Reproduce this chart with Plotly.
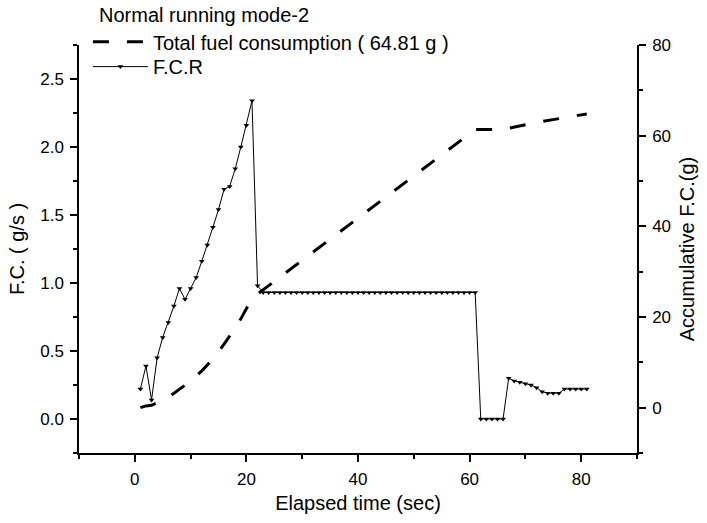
import plotly.graph_objects as go

# F.C.R (g/s), left axis
time_fcr = list(range(1, 82))
fcr = ([0.22, 0.39, 0.14, 0.45, 0.60, 0.71, 0.83, 0.96, 0.88, 0.96,
        1.04, 1.16, 1.28, 1.41, 1.54, 1.69, 1.71, 1.84, 2.00, 2.16,
        2.34, 0.98]
       + [0.93] * 39
       + [0.00] * 5
       + [0.30, 0.28, 0.27, 0.26, 0.25, 0.23, 0.20, 0.19, 0.19, 0.19,
          0.22, 0.22, 0.22, 0.22, 0.22])

# Accumulative fuel consumption (g), right axis
time_cum = list(range(1, 82))
cum = [0.00, 0.39, 0.53, 0.98, 1.58, 2.29, 3.12, 4.08, 4.96, 5.92,
       6.96, 8.12, 9.40, 10.81, 12.35, 14.04, 15.75, 17.59, 19.59, 21.75,
       24.09, 25.07, 26.00, 26.93, 27.86, 28.79, 29.72, 30.65, 31.58, 32.51,
       33.44, 34.37, 35.30, 36.23, 37.16, 38.09, 39.02, 39.95, 40.88, 41.81,
       42.74, 43.67, 44.60, 45.53, 46.46, 47.39, 48.32, 49.25, 50.18, 51.11,
       52.04, 52.97, 53.90, 54.83, 55.76, 56.69, 57.62, 58.55, 59.48, 60.41,
       61.34, 61.34, 61.34, 61.34, 61.34, 61.34, 61.64, 61.92, 62.19, 62.45,
       62.70, 62.93, 63.13, 63.32, 63.51, 63.70, 63.92, 64.14, 64.36, 64.58,
       64.80]

x_ticks = [0, 20, 40, 60, 80]
y_ticks = [0.0, 0.5, 1.0, 1.5, 2.0, 2.5]
y2_ticks = [0, 20, 40, 60, 80]

FONT = "Liberation Sans, Arial, sans-serif"
TICK_SIZE = 17
TITLE_SIZE = 20
LEGEND_SIZE = 20

fig = go.Figure()
fig.add_trace(go.Scatter(
    x=time_cum, y=cum, yaxis="y2", mode="lines",
    name="Total fuel consumption ( 64.81 g )",
    line=dict(color="black", width=3, dash="16px,18px"),
    legend="legend",
))
fig.add_trace(go.Scatter(
    x=time_fcr, y=fcr, mode="lines+markers", name="F.C.R",
    line=dict(color="black", width=1),
    marker=dict(symbol="triangle-down", size=5, color="black"),
    legend="legend2",
))

axis_common = dict(
    showline=True, linecolor="black", linewidth=1.5,
    ticks="outside", ticklen=7, tickwidth=1.5, tickcolor="black",
    ticklabelstandoff=3,
    showgrid=False, zeroline=False,
    tickfont=dict(family=FONT, size=TICK_SIZE, color="black"),
)
minor_common = dict(ticks="outside", ticklen=4, tickcolor="black", tickwidth=1.5)
legend_common = dict(
    xanchor="left", yanchor="middle", bgcolor="rgba(0,0,0,0)", itemwidth=55,
    font=dict(family=FONT, size=LEGEND_SIZE, color="black"),
)

fig.update_layout(
    width=707, height=523,
    margin=dict(l=79, r=64, t=45, b=66),
    paper_bgcolor="white", plot_bgcolor="white",
    font=dict(family=FONT, color="black"),
    showlegend=True,
    legend=dict(x=0.016, y=1.008, **legend_common),
    legend2=dict(x=0.016, y=0.947, **legend_common),
    xaxis=dict(
        range=[-10, 90], tickvals=x_ticks,
        minor=dict(dtick=10, tick0=0, **minor_common),
        title=dict(text="Elapsed time (sec)", font=dict(family=FONT, size=TITLE_SIZE), standoff=8),
        **axis_common,
    ),
    yaxis=dict(
        range=[-0.25, 2.75], tickvals=y_ticks, tickformat=".1f",
        minor=dict(dtick=0.25, tick0=0, **minor_common),
        title=dict(text="F.C. ( g/s )", font=dict(family=FONT, size=TITLE_SIZE), standoff=10),
        **axis_common,
    ),
    yaxis2=dict(
        range=[-10, 80], tickvals=y2_ticks, overlaying="y", side="right", anchor="x",
        minor=dict(dtick=10, tick0=0, **minor_common),
        title=dict(text="Accumulative F.C.(g)", font=dict(family=FONT, size=TITLE_SIZE), standoff=10),
        **axis_common,
    ),
    annotations=[dict(
        text="Normal running mode-2", xref="paper", yref="paper",
        x=0.032, y=1.073, xanchor="left", yanchor="middle",
        showarrow=False, font=dict(family=FONT, size=LEGEND_SIZE, color="black"),
    )],
)

fig.write_html(
    "out.html",
    config={"displayModeBar": False},
    post_script="document.body.style.margin='0';document.body.style.padding='0';",
)
